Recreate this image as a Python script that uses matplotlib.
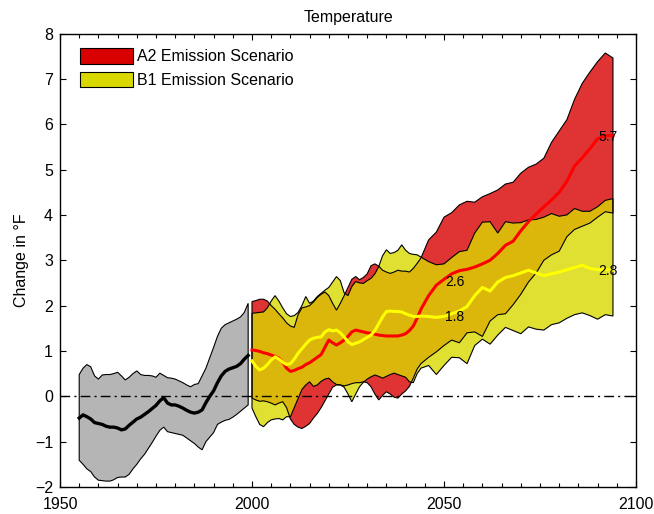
import matplotlib
matplotlib.use("Agg")
import matplotlib.pyplot as plt
from matplotlib.patches import Patch
import numpy as np

plt.rcParams['font.family'] = ['Liberation Sans', 'DejaVu Sans']

# ---------------- data ----------------
hist_years = list(range(1955, 2000))
hist_upper = [0.48, 0.62, 0.70, 0.65, 0.45, 0.38, 0.47, 0.48, 0.48, 0.50,
              0.53, 0.45, 0.36, 0.42, 0.50, 0.56, 0.48, 0.46, 0.46, 0.45,
              0.42, 0.51, 0.46, 0.41, 0.40, 0.38, 0.34, 0.30, 0.25, 0.21,
              0.26, 0.28, 0.45, 0.62, 0.85, 1.08, 1.32, 1.50, 1.58, 1.62,
              1.66, 1.70, 1.75, 1.85, 2.05]
hist_lower = [-1.41, -1.50, -1.60, -1.66, -1.78, -1.85, -1.86, -1.87, -1.87, -1.84,
              -1.79, -1.78, -1.78, -1.72, -1.60, -1.50, -1.38, -1.28, -1.15, -1.02,
              -0.88, -0.75, -0.68, -0.78, -0.80, -0.82, -0.84, -0.86, -0.92, -0.98,
              -1.04, -1.12, -1.18, -1.00, -0.90, -0.80, -0.62, -0.57, -0.53, -0.51,
              -0.46, -0.40, -0.33, -0.26, -0.19]
hist_mean = [-0.48, -0.41, -0.45, -0.50, -0.58, -0.60, -0.62, -0.66, -0.68, -0.68,
             -0.70, -0.74, -0.72, -0.64, -0.57, -0.50, -0.46, -0.40, -0.34, -0.27,
             -0.20, -0.10, -0.03, -0.15, -0.19, -0.19, -0.22, -0.26, -0.31, -0.35,
             -0.37, -0.35, -0.30, -0.14, 0.00, 0.12, 0.30, 0.45, 0.55, 0.60,
             0.63, 0.66, 0.72, 0.82, 0.90]

proj_years = list(range(2000, 2045)) + list(range(2046, 2095, 2))

a2_upper = [2.09, 2.11, 2.14, 2.14, 2.10, 2.00, 1.92, 1.82, 1.73, 1.62,
            1.55, 1.52, 1.80, 1.95, 1.97, 2.00, 2.08, 2.18, 2.25, 2.30,
            2.22, 2.05, 1.90, 2.05, 2.22, 2.40, 2.58, 2.64, 2.57, 2.62,
            2.70, 2.88, 2.92, 2.87, 2.78, 2.74, 2.71, 2.74, 2.78, 2.76,
            2.76, 2.74, 2.82, 2.93, 3.05,
            3.45, 3.62, 3.95, 4.05, 4.22, 4.30, 4.28, 4.40, 4.47, 4.55,
            4.68, 4.72, 4.92, 5.05, 5.12, 5.25, 5.60, 5.85, 6.10, 6.55,
            6.90, 7.15, 7.38, 7.57, 7.46]
a2_lower = [-0.04, -0.08, -0.11, -0.10, -0.12, -0.15, -0.19, -0.15, -0.12, -0.25,
            -0.50, -0.62, -0.68, -0.71, -0.66, -0.60, -0.48, -0.38, -0.25, -0.10,
            0.05, 0.20, 0.25, 0.25, 0.23, 0.25, 0.28, 0.30, 0.30, 0.32,
            0.30, 0.21, 0.05, -0.08, 0.02, 0.10, 0.05, -0.02, -0.04, 0.05,
            0.12, 0.22, 0.40, 0.60, 0.72,
            0.86, 0.98, 1.12, 1.24, 1.18, 1.40, 1.42, 1.32, 1.66, 1.80,
            1.82, 2.02, 2.25, 2.52, 2.72, 3.00, 3.12, 3.20, 3.52, 3.68,
            3.75, 3.82, 3.95, 4.07, 4.04]
a2_mean = [1.02, 1.01, 0.99, 0.96, 0.94, 0.91, 0.88, 0.84, 0.75, 0.62,
           0.55, 0.57, 0.61, 0.64, 0.70, 0.74, 0.80, 0.86, 0.92, 1.08,
           1.24, 1.18, 1.13, 1.18, 1.24, 1.32, 1.42, 1.46, 1.44, 1.42,
           1.40, 1.39, 1.37, 1.35, 1.34, 1.33, 1.33, 1.33, 1.33, 1.35,
           1.38, 1.45, 1.55, 1.72, 1.92,
           2.22, 2.45, 2.58, 2.70, 2.77, 2.80, 2.85, 2.92, 3.00, 3.15,
           3.33, 3.42, 3.65, 3.85, 4.02, 4.18, 4.33, 4.50, 4.74, 5.08,
           5.26, 5.46, 5.68, 5.75, 5.75]

b1_upper = [1.83, 1.84, 1.85, 1.86, 1.95, 2.10, 2.22, 2.10, 1.95, 1.82,
            1.76, 1.78, 1.85, 2.00, 2.20, 2.05, 2.10, 2.20, 2.27, 2.34,
            2.40, 2.52, 2.64, 2.55, 2.28, 2.22, 2.42, 2.53, 2.50, 2.49,
            2.55, 2.60, 2.70, 2.86, 3.10, 3.23, 3.15, 3.17, 3.22, 3.34,
            3.22, 3.15, 3.13, 3.12, 3.07,
            2.97, 2.90, 2.92, 3.06, 3.19, 3.22, 3.60, 3.84, 3.85, 3.60,
            3.85, 3.82, 3.83, 3.89, 3.90, 3.95, 4.03, 3.97, 4.00, 4.14,
            4.08, 4.08, 4.18, 4.32, 4.36]
b1_lower = [-0.26, -0.45, -0.62, -0.67, -0.58, -0.52, -0.50, -0.49, -0.52, -0.45,
            -0.45, -0.25, -0.05, 0.15, 0.25, 0.32, 0.22, 0.25, 0.33, 0.38,
            0.40, 0.32, 0.26, 0.25, 0.20, 0.05, -0.12, 0.05, 0.21, 0.31,
            0.38, 0.43, 0.47, 0.44, 0.40, 0.44, 0.48, 0.51, 0.48, 0.45,
            0.42, 0.32, 0.30, 0.50, 0.62,
            0.68, 0.48, 0.68, 0.86, 0.85, 0.72, 1.12, 1.26, 1.15, 1.35,
            1.52, 1.45, 1.38, 1.53, 1.48, 1.46, 1.58, 1.62, 1.72, 1.80,
            1.84, 1.78, 1.70, 1.80, 1.77]
b1_mean = [0.78, 0.66, 0.58, 0.62, 0.70, 0.80, 0.87, 0.82, 0.75, 0.70,
           0.72, 0.82, 0.95, 1.05, 1.15, 1.24, 1.28, 1.30, 1.31, 1.42,
           1.47, 1.44, 1.46, 1.40, 1.31, 1.20, 1.14, 1.17, 1.20, 1.25,
           1.30, 1.35, 1.45, 1.60, 1.75, 1.87, 1.88, 1.87, 1.87, 1.86,
           1.82, 1.79, 1.76, 1.76, 1.77,
           1.76, 1.74, 1.76, 1.82, 1.88, 1.98, 2.22, 2.40, 2.32, 2.52,
           2.62, 2.66, 2.72, 2.78, 2.72, 2.66, 2.70, 2.74, 2.79, 2.84,
           2.89, 2.82, 2.79, 2.80, 2.78]

labels_text = ['2.6', '1.8', '5.7', '2.8']
labels_x = [2050.3, 2050.3, 2090.1, 2090.1]
labels_y = [2.52, 1.75, 5.71, 2.76]

legend_labels = ['A2 Emission Scenario', 'B1 Emission Scenario']

# ---------------- figure ----------------
fig = plt.figure(figsize=(6.54, 5.14), dpi=100)
ax = fig.add_axes([60/654, 27/514, 576/654, 453.5/514])

red = (0.85, 0.0, 0.0)
yel = (0.85, 0.85, 0.0)
grey = (0.71, 0.71, 0.71)

def poly(x, up, lo):
    x = np.asarray(x, float)
    return (np.concatenate([x, x[::-1]]),
            np.concatenate([np.asarray(up, float), np.asarray(lo, float)[::-1]]))

# historical band
hx, hy = poly(hist_years, hist_upper, hist_lower)
ax.fill(hx, hy, facecolor=grey, edgecolor='none', zorder=1)
ax.fill(hx, hy, facecolor='none', edgecolor='black', lw=0.8, zorder=3)

# projection bands
ax_, ay_ = poly(proj_years, a2_upper, a2_lower)
bx_, by_ = poly(proj_years, b1_upper, b1_lower)
ax.fill(ax_, ay_, facecolor=red, alpha=0.8, edgecolor='none', zorder=1)
ax.fill(bx_, by_, facecolor=yel, alpha=0.8, edgecolor='none', zorder=2)
ax.fill(ax_, ay_, facecolor='none', edgecolor='black', lw=0.8, zorder=3)
ax.fill(bx_, by_, facecolor='none', edgecolor='black', lw=0.8, zorder=3)

# zero line
ax.axhline(0, color='black', lw=1.0, dashes=(7, 3, 1.5, 3), zorder=4)

# mean lines
ax.plot(hist_years, hist_mean, color='black', lw=2.4, zorder=5)
ax.plot(proj_years, a2_mean, color='#ff0000', lw=2.2, zorder=5)
ax.plot(proj_years, b1_mean, color='#ffff00', lw=2.2, zorder=5)

for t, x, y in zip(labels_text, labels_x, labels_y):
    ax.text(x, y, t, ha='left', va='center', fontsize=10, color='black', zorder=6)

ax.set_xlim(1950, 2100)
ax.set_ylim(-2, 8)
ax.set_xticks([1950, 2000, 2050, 2100])
ax.set_xticks(np.arange(1950, 2101, 5), minor=True)
ax.set_yticks(np.arange(-2, 9, 1))
ax.tick_params(axis='both', which='both', direction='in', top=True, right=True,
               labelsize=11.5, colors='black')
ax.tick_params(axis='both', which='major', length=4.5, width=0.8)
ax.tick_params(axis='both', which='minor', length=2.8, width=0.8)
ax.tick_params(axis='x', which='major', pad=7.5)
ax.tick_params(axis='y', which='major', pad=5)
for s in ax.spines.values():
    s.set_linewidth(1.0)
    s.set_color('black')

ax.set_title('Temperature', fontsize=11.5, pad=8)
ax.set_ylabel('Change in °F', fontsize=11.5, labelpad=4)

handles = [Patch(facecolor=red, edgecolor='black', lw=0.8),
           Patch(facecolor=yel, edgecolor='black', lw=0.8)]
ax.legend(handles, legend_labels, loc='upper left', bbox_to_anchor=(0.0347, 0.968),
          frameon=False, fontsize=11.5, handlelength=3.3, handleheight=1.15,
          handletextpad=0.3, labelspacing=0.45, borderpad=0, borderaxespad=0)

fig.savefig('out.png', dpi=100)
